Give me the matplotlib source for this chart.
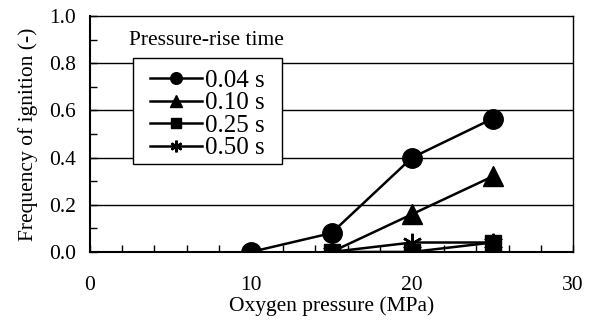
import matplotlib
matplotlib.use('Agg')
import matplotlib.pyplot as plt
import numpy as np
from matplotlib.ticker import MultipleLocator
from matplotlib.patches import Rectangle

plt.rcParams['font.family'] = ['Liberation Serif', 'DejaVu Serif']

# data
x_004 = [10, 15, 20, 25]
y_004 = [0.0, 0.08, 0.40, 0.565]
x_010 = [15, 20, 25]
y_010 = [0.0, 0.16, 0.32]
x_025 = [15, 20, 25]
y_025 = [0.0, 0.0, 0.04]
x_050 = [15, 20, 25]
y_050 = [0.0, 0.04, 0.04]
labels = ['0.04 s', '0.10 s', '0.25 s', '0.50 s']

fs = 15.5

fig = plt.figure(figsize=(5.92, 3.23), dpi=100)
ax = fig.add_axes([0.152, 0.220, 0.816, 0.730])

ax.set_xlim(0, 30)
ax.set_ylim(0, 1.0)
for yv in [0.2, 0.4, 0.6, 0.8]:
    ax.axhline(yv, color='black', lw=1.0, zorder=1)

lw = 1.8
h1, = ax.plot(x_004, y_004, 'k-', marker='o', ms=14, lw=lw, label=labels[0], zorder=3)
h2, = ax.plot(x_010, y_010, 'k-', marker='^', ms=15, lw=lw, label=labels[1], zorder=3)
h3, = ax.plot(x_025, y_025, 'k-', marker='s', ms=11, lw=lw, label=labels[2], zorder=3)
h4, = ax.plot(x_050, y_050, 'k-', marker=(6, 2, 0), ms=14, mew=1.8, lw=lw, label=labels[3], zorder=2)

ax.xaxis.set_major_locator(MultipleLocator(10))
ax.xaxis.set_minor_locator(MultipleLocator(2))
ax.yaxis.set_major_locator(MultipleLocator(0.2))
ax.yaxis.set_minor_locator(MultipleLocator(0.1))
ax.yaxis.set_major_formatter(matplotlib.ticker.FormatStrFormatter('%.1f'))
ax.tick_params(which='both', direction='in', width=1.0, top=False, right=False)
ax.tick_params(which='major', length=5, labelsize=fs)
ax.tick_params(which='minor', length=5)
ax.tick_params(axis='x', pad=17)
ax.tick_params(axis='y', pad=10)
for s in ax.spines.values():
    s.set_linewidth(1.0)
ax.spines['left'].set_linewidth(1.5)
ax.spines['bottom'].set_linewidth(1.5)

ax.set_xlabel('Oxygen pressure (MPa)', fontsize=fs, labelpad=1)
ax.set_ylabel('Frequency of ignition (-)', fontsize=fs, labelpad=8)

# legend box drawn separately so its padding matches the original
box = Rectangle((0.089, 0.373), 0.309, 0.449, transform=ax.transAxes,
                facecolor='white', edgecolor='black', lw=1.0, zorder=4)
ax.add_patch(box)
leg = ax.legend(handles=[h1, h2, h3, h4], loc='upper left', bbox_to_anchor=(0.124, 0.774),
                borderaxespad=0, fontsize=18, markerscale=0.6, handlelength=2.1,
                handletextpad=0.12, labelspacing=0.0, frameon=False, borderpad=0)
leg.set_zorder(5)

ax.text(0.081, 0.895, 'Pressure-rise time', transform=ax.transAxes, fontsize=fs,
        ha='left', va='center')

fig.savefig('out.png', dpi=100)
